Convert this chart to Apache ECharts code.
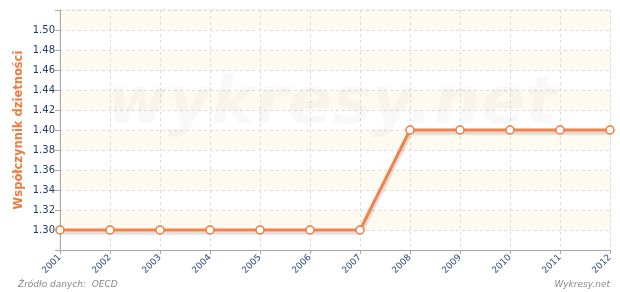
<!DOCTYPE html>
<html><head><meta charset="utf-8">
<script src="https://cdn.jsdelivr.net/npm/echarts@6/dist/echarts.min.js"></script>
<style>html,body{margin:0;padding:0;background:#fff}#c{width:620px;height:292px}</style>
</head><body><div id="c"></div>
<script>
const years = ['2001','2002','2003','2004','2005','2006','2007','2008','2009','2010','2011','2012'];
const fertility = [1.30,1.30,1.30,1.30,1.30,1.30,1.30,1.40,1.40,1.40,1.40,1.40];
const yMin = 1.28, yMax = 1.52, yStep = 0.02;

const chart = echarts.init(document.getElementById('c'), null, {renderer:'canvas'});
chart.setOption({
  animation:false,
  backgroundColor:'#ffffff',
  grid:{left:60,right:10,top:10,bottom:42,show:true,borderColor:'#e4e4e4',borderWidth:1},
  graphic:[
    {type:'text',x:332,y:106,z:1,silent:true,style:{text:'wykresy.net',align:'center',verticalAlign:'middle',font:'italic bold 66px "DejaVu Sans"',fill:'rgba(0,0,0,0.028)'}},
    {type:'text',left:18,top:280,style:{text:'Źródło danych:  OECD',font:'italic 9px "DejaVu Sans"',fill:'#8a8a8a'}},
    {type:'text',right:10,top:280,style:{text:'Wykresy.net',font:'italic 9px "DejaVu Sans"',fill:'#8a8a8a'}}
  ],
  xAxis:{
    type:'category',data:years,boundaryGap:false,
    axisLine:{lineStyle:{color:'#a8a8a8',width:1}},
    axisTick:{show:true,length:4,lineStyle:{color:'#a8a8a8'}},
    axisLabel:{rotate:45,fontSize:9,color:'#2b4a78',fontFamily:'DejaVu Sans',margin:6},
    splitLine:{show:true,lineStyle:{color:'#dcdcdc',type:[3,3]}}
  },
  yAxis:{
    type:'value',min:yMin,max:yMax,interval:yStep,
    name:'Współczynnik dzietności',nameLocation:'middle',nameGap:35,nameMoveOverlap:false,
    nameTextStyle:{color:'#f07a3e',fontWeight:'bold',fontSize:11.5,fontFamily:'DejaVu Sans'},
    axisLine:{show:true,lineStyle:{color:'#a8a8a8',width:1}},
    axisTick:{show:true,length:5,lineStyle:{color:'#a8a8a8'}},
    axisLabel:{color:'#1f3d6b',fontSize:10,fontFamily:'DejaVu Sans',margin:5,
      formatter:v=>(v<=yMin+1e-9||v>=yMax-1e-9)?'':v.toFixed(2)},
    splitLine:{show:true,lineStyle:{color:'#dcdcdc',type:[3,3]}},
    splitArea:{show:true,areaStyle:{color:['#ffffff','#fffbf1']}}
  },
  series:[{
    type:'line',data:fertility,
    symbol:'circle',symbolSize:8,
    itemStyle:{color:'#ffffff',borderColor:'#f07a3e',borderWidth:1.5},
    lineStyle:{color:'#f5804a',width:3,shadowColor:'rgba(0,0,0,0.15)',shadowBlur:2,shadowOffsetY:3,shadowOffsetX:1},
    z:5
  }]
});
</script></body></html>
